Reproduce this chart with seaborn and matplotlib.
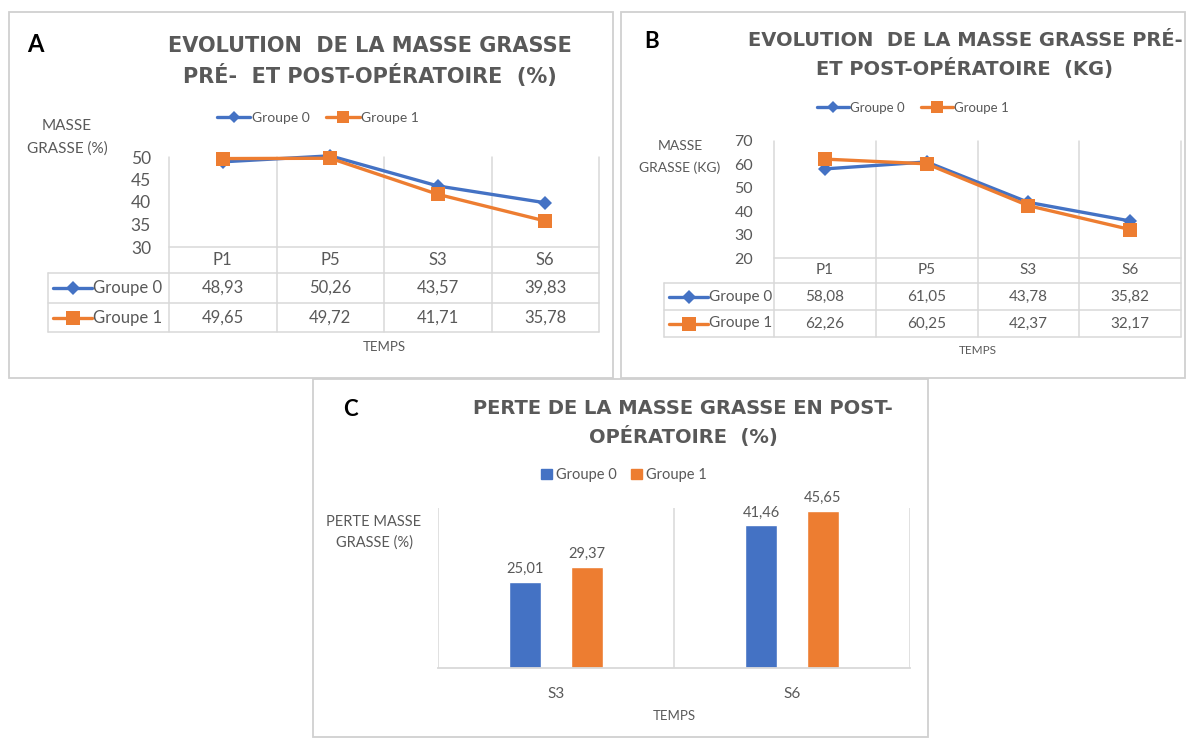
import numpy as np
import pandas as pd
import matplotlib
matplotlib.use('Agg')
import matplotlib.pyplot as plt
import matplotlib.transforms as mtrans
from matplotlib.lines import Line2D
from matplotlib.patches import Rectangle, Patch
import seaborn as sns

# ---- data ----
temps = ['P1', 'P5', 'S3', 'S6']
groupes = ['Groupe 0', 'Groupe 1']
pct_g0 = [48.93, 50.26, 43.57, 39.83]
pct_g1 = [49.65, 49.72, 41.71, 35.78]
kg_g0 = [58.08, 61.05, 43.78, 35.82]
kg_g1 = [62.26, 60.25, 42.37, 32.17]
perte_temps = ['S3', 'S6']
perte_g0 = [25.01, 41.46]
perte_g1 = [29.37, 45.65]

BLUE, ORANGE = '#4472C4', '#ED7D31'
GRID, TXT = '#D9D9D9', '#595959'
W, H = 1186, 738

sns.set_theme(style='white')
plt.rcParams['font.family'] = ['Lato', 'DejaVu Sans']

fig = plt.figure(figsize=(W / 100, H / 100), dpi=100)
bg = fig.add_axes([0, 0, 1, 1], zorder=-1)
bg.set_xlim(0, W)
bg.set_ylim(H, 0)
bg.axis('off')


def px_axes(x0, y0, x1, y1):
    a = fig.add_axes([x0 / W, 1 - y1 / H, (x1 - x0) / W, (y1 - y0) / H])
    a.patch.set_visible(False)
    return a


def fmt(v):
    return f'{v:.2f}'.replace('.', ',')


def title(lines, cx, ys, size):
    for s, y in zip(lines, ys):
        bg.text(cx, y, s, ha='center', va='center', fontsize=size, color=TXT,
                fontweight='bold', family=['DejaVu Sans'])


def hline(x0, x1, y):
    bg.add_line(Line2D([x0, x1], [y, y], color=GRID, lw=1.1))


# panel frames
for x0, y0, x1, y1 in [(9, 12, 613, 378), (621, 12, 1185, 378), (313, 379, 928, 737)]:
    bg.add_patch(Rectangle((x0, y0), x1 - x0, y1 - y0, fill=False, ec='#D0D0D0', lw=1.3))


def line_panel(box, ylim, yticks, g0, g1, rows, tbl_left, fs, pad, ylab_x, ylab_y, ylab, temps_y):
    x0, y0, x1, y1 = box
    ax = px_axes(*box)
    df = pd.DataFrame({'temps': temps * 2, 'valeur': g0 + g1,
                       'groupe': [groupes[0]] * 4 + [groupes[1]] * 4})
    sns.pointplot(data=df, x='temps', y='valeur', hue='groupe', palette=[BLUE, ORANGE],
                  markers=['D', 's'], linestyles=['-', '-'], errorbar=None,
                  legend=False, ax=ax)
    for ln in ax.lines:
        ln.set_linewidth(2.4)
        ln.set_markersize(7.5 if ln.get_marker() == 'D' else 10)
        ln.set_markeredgewidth(0)
        ln.set_clip_on(False)
    ax.set_xlim(-0.5, 3.5)
    ax.set_ylim(*ylim)
    ax.set_yticks(yticks)
    ax.set_xticks([])
    ax.set_xlabel('')
    ax.set_ylabel('')
    ax.tick_params(axis='y', length=0, labelsize=fs + 0.5, labelcolor=TXT, pad=pad)
    for sp in ax.spines.values():
        sp.set_visible(False)

    # data table under the plot, columns aligned on the categories
    tr = mtrans.blended_transform_factory(ax.transData, bg.transData)
    top, r1, r2, r3 = rows
    for i in range(5):
        bg.add_line(Line2D([i - 0.5] * 2, [y0, r3], color=GRID, lw=1.1, transform=tr))
    hline(x0, x1, top)
    hline(tbl_left, x1, r1)
    hline(tbl_left, x1, r2)
    hline(tbl_left, x1, r3)
    bg.add_line(Line2D([tbl_left, tbl_left], [r1, r3], color=GRID, lw=1.1))
    for i, t in enumerate(temps):
        bg.text(i, (top + r1) / 2, t, transform=tr, ha='center', va='center', fontsize=fs, color=TXT)
    for (ya, yb), vals, col, mk, ms, s in [((r1, r2), g0, BLUE, 'D', 7.5, groupes[0]),
                                         ((r2, r3), g1, ORANGE, 's', 10, groupes[1])]:
        yc = (ya + yb) / 2
        for i, v in enumerate(vals):
            bg.text(i, yc, fmt(v), transform=tr, ha='center', va='center', fontsize=fs, color=TXT)
        bg.add_line(Line2D([tbl_left + 5, tbl_left + 44], [yc, yc], color=col, lw=2.4))
        bg.add_line(Line2D([tbl_left + 24.5], [yc], marker=mk, ms=ms, color=col, mew=0))
        bg.text(tbl_left + 45, yc, s, ha='left', va='center', fontsize=fs, color=TXT)
    for s, y in zip(ylab, ylab_y):
        bg.text(ylab_x, y, s, ha='center', va='center', fontsize=fs - 1, color=TXT)
    bg.text((x0 + x1) / 2, temps_y, 'TEMPS', ha='center', va='center', fontsize=fs - 2.5, color=TXT)
    return ax


def line_legend(cx, cy, fs):
    h = [Line2D([], [], color=BLUE, lw=2.4, marker='D', ms=6.5, mew=0),
         Line2D([], [], color=ORANGE, lw=2.4, marker='s', ms=8, mew=0)]
    leg = fig.legend(h, groupes, loc='center', bbox_to_anchor=(cx / W, 1 - cy / H), ncol=2,
                     frameon=False, fontsize=fs, handlelength=2.4, handletextpad=0.1,
                     columnspacing=1.2, borderpad=0)
    for t in leg.get_texts():
        t.set_color(TXT)


# ---- A ----
line_panel((169, 157, 599, 247), (30, 50), [30, 35, 40, 45, 50], pct_g0, pct_g1,
           (247, 273, 303, 332), 48, 12, 13, 67, (126, 149), ['MASSE', 'GRASSE (%)'], 347)
bg.text(35, 45, 'A', ha='center', va='center', fontsize=17, fontweight='bold', color='black')
title(['EVOLUTION  DE LA MASSE GRASSE', 'PRÉ-  ET POST-OPÉRATOIRE  (%)'], 370, (46, 76), 15)
line_legend(318, 118, 10)

# ---- B ----
line_panel((774, 141, 1181, 258), (20, 70), [20, 30, 40, 50, 60, 70], kg_g0, kg_g1,
           (258, 283, 310, 337), 664, 11, 15, 680, (146, 168), ['MASSE', 'GRASSE (KG)'], 350)
bg.text(652, 42, 'B', ha='center', va='center', fontsize=16, fontweight='bold', color='black')
title(['EVOLUTION  DE LA MASSE GRASSE PRÉ-', 'ET POST-OPÉRATOIRE  (KG)'], 965, (40, 68), 14)
line_legend(913, 108, 9.5)

# ---- C ----
axc = px_axes(438, 508, 910, 668)
dfc = pd.DataFrame({'temps': perte_temps * 2, 'valeur': perte_g0 + perte_g1,
                    'groupe': [groupes[0]] * 2 + [groupes[1]] * 2})
sns.barplot(data=dfc, x='temps', y='valeur', hue='groupe', palette=[BLUE, ORANGE],
            width=0.52, gap=0.48, saturation=1, legend=False, ax=axc)
for cont in axc.containers:
    axc.bar_label(cont, labels=[fmt(v) for v in cont.datavalues], padding=4,
                  fontsize=10.5, color=TXT)
axc.set_xlim(-0.5, 1.5)
axc.set_ylim(0, 46.5)
axc.set_yticks([])
axc.set_xlabel('')
axc.set_ylabel('')
for x in [-0.5, 0.5, 1.5]:
    axc.axvline(x, color=GRID, lw=1.1, zorder=0)
for k, sp in axc.spines.items():
    sp.set_visible(k == 'bottom')
axc.spines['bottom'].set_color(GRID)
axc.spines['bottom'].set_linewidth(1.3)
axc.tick_params(axis='x', length=0, labelsize=11, labelcolor=TXT, pad=14)
bg.text(674, 716, 'TEMPS', ha='center', va='center', fontsize=9.5, color=TXT)
bg.text(374, 522, 'PERTE MASSE', ha='center', va='center', fontsize=10.5, color=TXT)
bg.text(374, 543, 'GRASSE (%)', ha='center', va='center', fontsize=10.5, color=TXT)
bg.text(350, 409, 'C', ha='center', va='center', fontsize=16, fontweight='bold', color='black')
title(['PERTE DE LA MASSE GRASSE EN POST-', 'OPÉRATOIRE  (%)'], 683, (409, 437), 14)
hc = [Patch(color=BLUE), Patch(color=ORANGE)]
legc = fig.legend(hc, groupes, loc='center', bbox_to_anchor=(624 / W, 1 - 475 / H), ncol=2,
                  frameon=False, fontsize=10.5, handlelength=0.7, handleheight=0.7,
                  handletextpad=0.3, columnspacing=1.0, borderpad=0)
for t in legc.get_texts():
    t.set_color(TXT)

fig.savefig('out.png', dpi=100)
